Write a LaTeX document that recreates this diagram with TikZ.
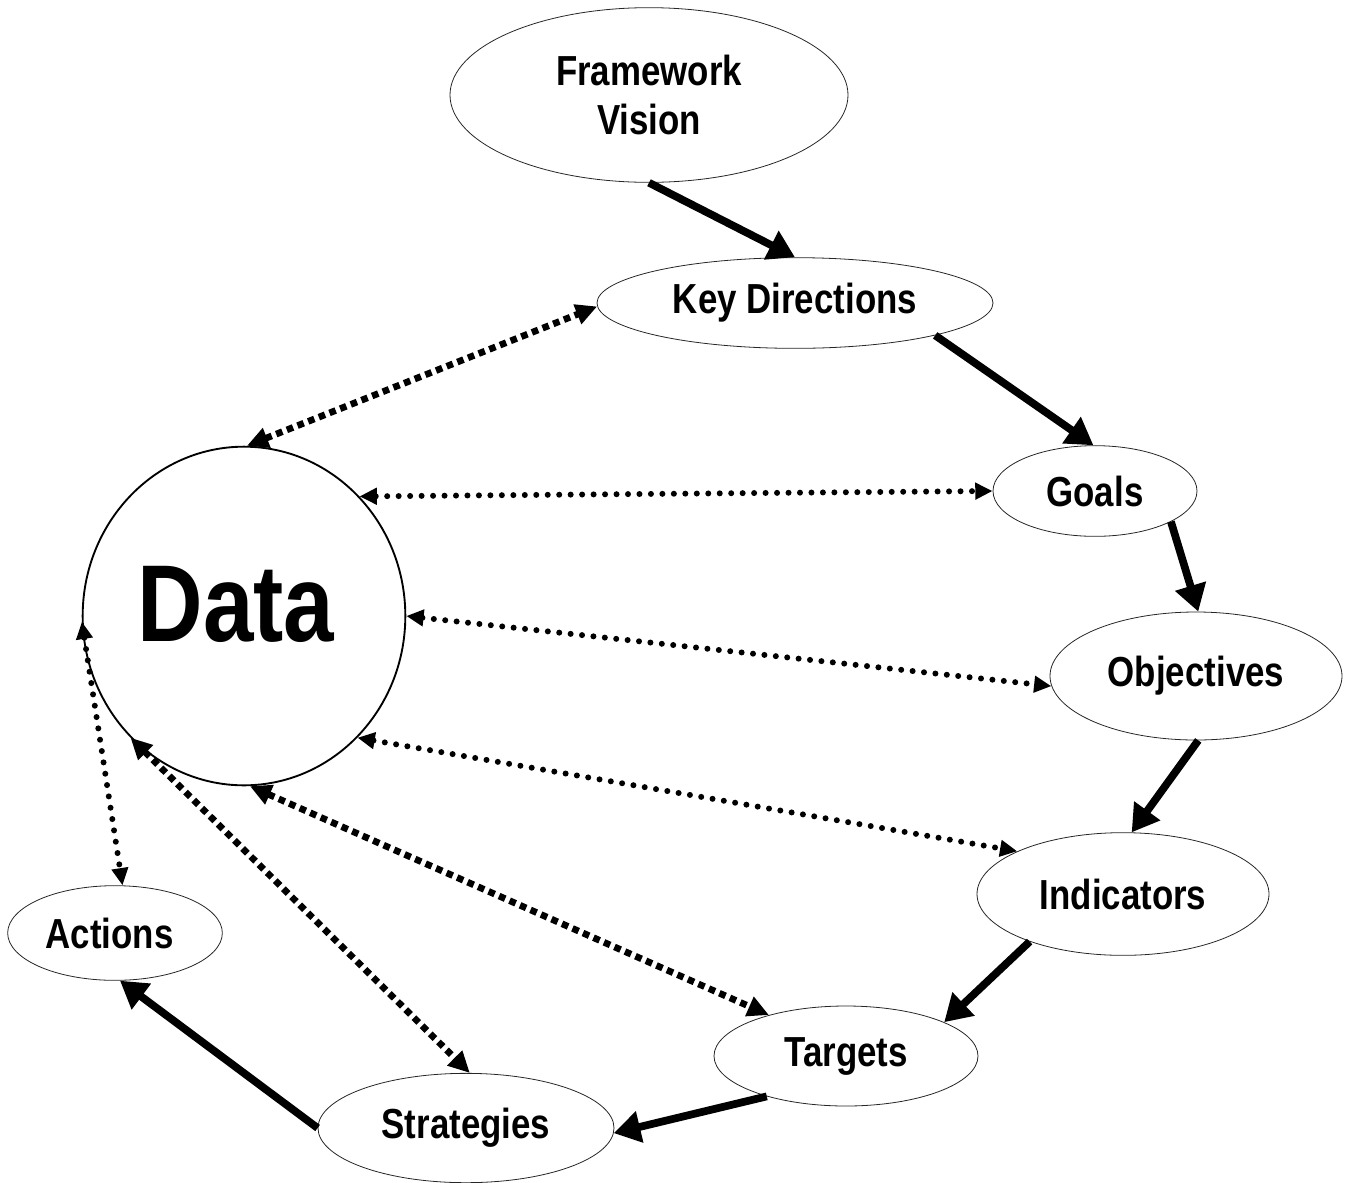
\documentclass[tikz,border=0pt]{standalone}
\usepackage{fontspec}
\setmainfont{Liberation Sans}[FakeStretch=0.83]
\usetikzlibrary{shapes.geometric,arrows.meta}
\begin{document}
\begin{tikzpicture}[x=0.75pt,y=-0.75pt,
  oval/.style={ellipse,draw=black!85,line width=0.6pt,inner sep=0pt,
    font=\fontsize{31.5}{36}\selectfont\bfseries,align=center},
  flow/.style={line width=5.8pt,-{Triangle[length=20pt,width=23pt]}},
  sqdot/.style={line width=5pt,dash pattern=on 5pt off 3.6pt,
    {Triangle[length=16pt,width=15pt]}-{Triangle[length=16pt,width=15pt]}},
  rddot/.style={line width=4.5pt,line cap=round,dash pattern=on 0pt off 8.6pt,
    {Triangle[length=13pt,width=12pt]}-{Triangle[length=13pt,width=12pt]}}]
\useasboundingbox (0,0) rectangle (1353,1182);
\node[oval,minimum width=298.5pt,minimum height=131pt] (fv) at (649,95) {Framework\\[1pt]Vision};
\node[oval,minimum width=297pt,minimum height=68pt] (kd) at (795,303) {Key Directions};
\node[oval,minimum width=153pt,minimum height=68pt] (goals) at (1095,491) {Goals};
\node[oval,minimum width=219pt,minimum height=96pt] (obj) at (1196,676) {Objectives};
\node[oval,minimum width=219pt,minimum height=92pt] (ind) at (1123,894) {Indicators};
\node[oval,minimum width=198pt,minimum height=75pt] (tar) at (846,1056) {Targets};
\node[oval,minimum width=222pt,minimum height=82pt] (str) at (466,1128) {Strategies};
\node[oval,minimum width=161pt,minimum height=71pt] (act) at (115,933) {\hspace*{-8pt}Actions};
\node[ellipse,draw,line width=1.4pt,inner sep=0pt,minimum width=242pt,minimum height=254pt,
  font=\fontsize{82}{90}\selectfont\bfseries] (data) at (244,616) {\smash{\raisebox{-19pt}{\hspace*{-12pt}Data}}};
% solid flow
\draw[flow] (fv.270) -- (kd.90);
\draw[flow] (kd.347) -- (goals.92);
\draw[flow] (goals.338) -- (obj.88);
\draw[flow] (obj.272) -- (ind.82);
\draw[flow] (ind.207) -- (tar.19);
\draw[flow] (tar.207) -- (str.358);
\draw[flow] (str.180) -- (act.276);
% dotted links
\draw[sqdot] (data.89) -- (kd.181);
\draw[rddot] (data.46.7) -- (goals.180);
\draw[rddot] (data.0) -- (obj.184.7);
\draw[rddot] (data.313) -- (ind.158);
\draw[sqdot] (data.272) -- (tar.152);
\draw[sqdot] (data.227.5) -- (str.86);
\draw[rddot] (data.182) -- (act.81);
\end{tikzpicture}
\end{document}
